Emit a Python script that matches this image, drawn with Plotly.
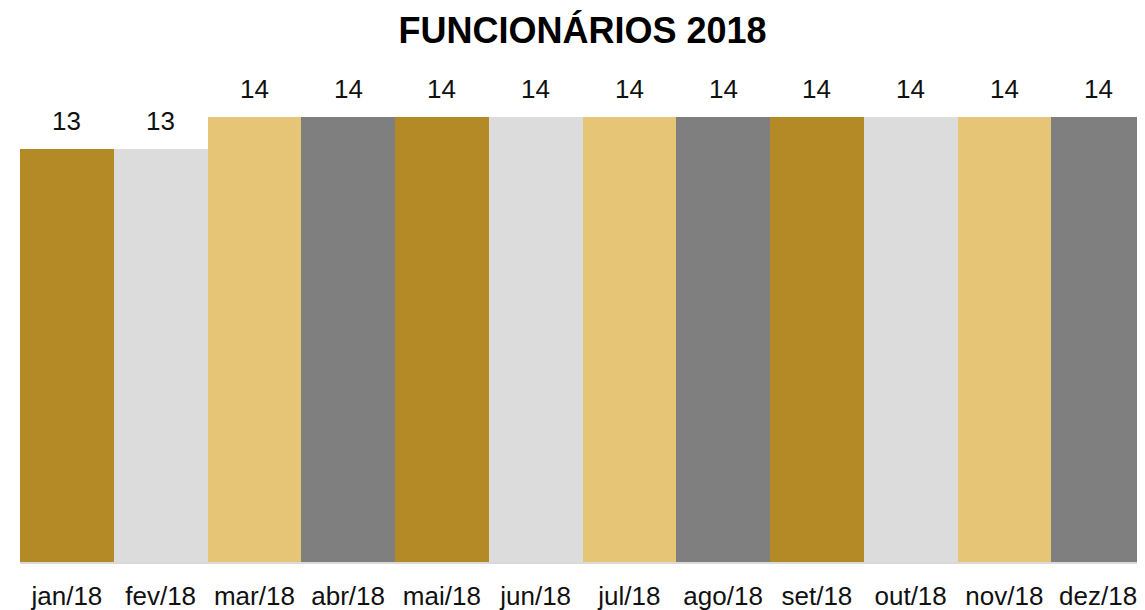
import plotly.graph_objects as go

months = ["jan/18", "fev/18", "mar/18", "abr/18", "mai/18", "jun/18",
          "jul/18", "ago/18", "set/18", "out/18", "nov/18", "dez/18"]
employees = [13, 13, 14, 14, 14, 14, 14, 14, 14, 14, 14, 14]
palette = ["#B48A26", "#DCDCDC", "#E6C577", "#7F7F7F"]
title_text = "FUNCIONÁRIOS 2018"

colors = [palette[i % 4] for i in range(len(months))]

# page body has an 8px default margin; compensate
OFF = 8
W, H = 1145 - OFF, 610 - OFF
m_l, m_r, m_t = 20 - OFF, 0, 60 - OFF
baseline_px = 562 - OFF
plot_h = baseline_px - m_t
m_b = H - baseline_px
# 14 units ~ 445 px
y_max = 14 * plot_h / 445

font = "Liberation Sans, Arial, sans-serif"

fig = go.Figure(go.Bar(
    x=months, y=employees, marker=dict(color=colors, line=dict(width=0)),
    hoverinfo="x+y",
))

for m, v in zip(months, employees):
    fig.add_annotation(x=m, y=v, text=str(v), showarrow=False,
                       yanchor="bottom", yshift=11,
                       font=dict(family=font, size=26, color="#111111"))

fig.update_layout(
    width=W, height=H,
    margin=dict(l=m_l, r=m_r, t=m_t, b=m_b, autoexpand=False),
    paper_bgcolor="white", plot_bgcolor="white",
    bargap=0,
    showlegend=False,
    title=dict(text="<b>" + title_text + "</b>", x=0.5, xref="paper",
               y=1 - (30 - OFF) / H, yref="container", yanchor="middle",
               font=dict(family=font, size=36, color="#000000")),
    xaxis=dict(showline=True, linecolor="#D9D9D9", linewidth=2,
               showgrid=False, ticks="", ticklabelstandoff=10,
               automargin=False,
               tickfont=dict(family=font, size=26, color="#111111")),
    yaxis=dict(range=[0, y_max], visible=False, showgrid=False, zeroline=False),
)

fig.write_html("out.html")
